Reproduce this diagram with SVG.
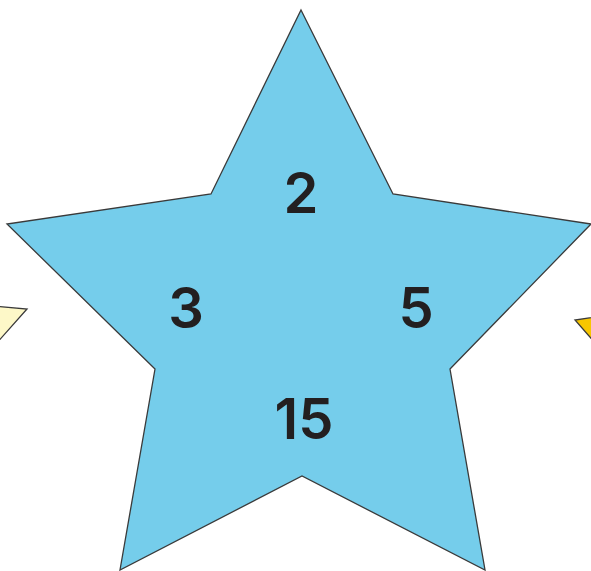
<svg xmlns="http://www.w3.org/2000/svg" width="591" height="571" viewBox="0 0 591 571">
<style>
.s{stroke:#3a3a3a;stroke-width:1.3;stroke-linejoin:miter}
.t{font-family:Inter,"Liberation Sans",sans-serif;font-size:56px;fill:#231f20;text-anchor:middle;font-weight:600}
</style>
<rect width="591" height="571" fill="#ffffff"/>
<g id="left-star"><polygon class="s" fill="#fdf8c8" points="-40,303 27,309 -5,345"/></g>
<g id="right-star"><polygon class="s" fill="#f7c600" points="630,312 575,320 610,360"/></g>
<g id="star">
<polygon class="s" fill="#75cdeb" points="301,10 393,194 591,224 450,369 485,570 302,476 120,570 155,369 7,224 211,194"/>
</g>
<g id="labels">
<text class="t" x="301" y="213">2</text>
<text class="t" x="186" y="328">3</text>
<text class="t" x="416" y="328">5</text>
<text class="t" x="304" y="439">15</text>
</g>
</svg>
